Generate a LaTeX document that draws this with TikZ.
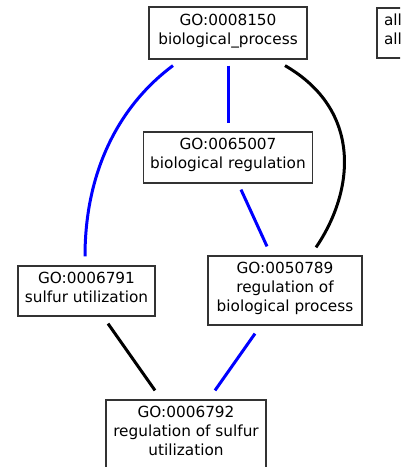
\documentclass[tikz,border=0pt]{standalone}
\usepackage{fontspec}
\setmainfont{DejaVu Sans}
\usetikzlibrary{calc}

\begin{document}
\begin{tikzpicture}[
  x=1pt,y=-1pt,
  term/.style={draw=black!80,line width=1.2pt,inner sep=0pt,align=center,
    fill=white,text depth=7.5pt,font=\fontsize{15.3}{19}\selectfont},
  isa/.style={line width=3pt,black},
  reg/.style={line width=3pt,blue}
]
\path[use as bounding box,fill=white] (0,0) rectangle (400,467);
\clip (0,0) rectangle (400,467);

\node[term,minimum width=158pt,minimum height=52pt] (bp) at (228,33)
  {GO:0008150\\biological\_process};
\node[term,minimum width=32pt,minimum height=50pt] (all) at (393,33) {all\\all};
\node[term,minimum width=169pt,minimum height=51pt] (breg) at (228,157.5)
  {GO:0065007\\biological regulation};
\node[term,minimum width=154pt,minimum height=69pt] (rbp) at (285,290.5)
  {GO:0050789\\regulation of\\biological process};
\node[term,minimum width=137pt,minimum height=50pt] (sulf) at (86.5,291)
  {GO:0006791\\sulfur utilization};
\node[term,minimum width=160pt,minimum height=69pt] (rsulf) at (186,434.5)
  {GO:0006792\\regulation of sulfur\\utilization};

% is_a in black, regulates in blue
\draw[reg] ($(bp.south)+(-55,6)$) .. controls (120,105) and (85,170) .. ($(sulf.north)+(-1.5,-9)$);
\draw[reg] ($(bp.south)+(0,6)$) -- ($(breg.north)+(0,-8)$);
\draw[isa] ($(bp.south)+(57,6)$) .. controls (362,110) and (355,190) .. ($(rbp.north)+(31,-8)$);
\draw[reg] ($(breg.south)+(13,6)$) -- ($(rbp.north)+(-18,-9)$);
\draw[isa] ($(sulf.south)+(21.5,7)$) -- ($(rsulf.north)+(-31,-9)$);
\draw[reg] ($(rbp.south)+(-30,8)$) -- ($(rsulf.north)+(29,-9)$);
\end{tikzpicture}
\end{document}
